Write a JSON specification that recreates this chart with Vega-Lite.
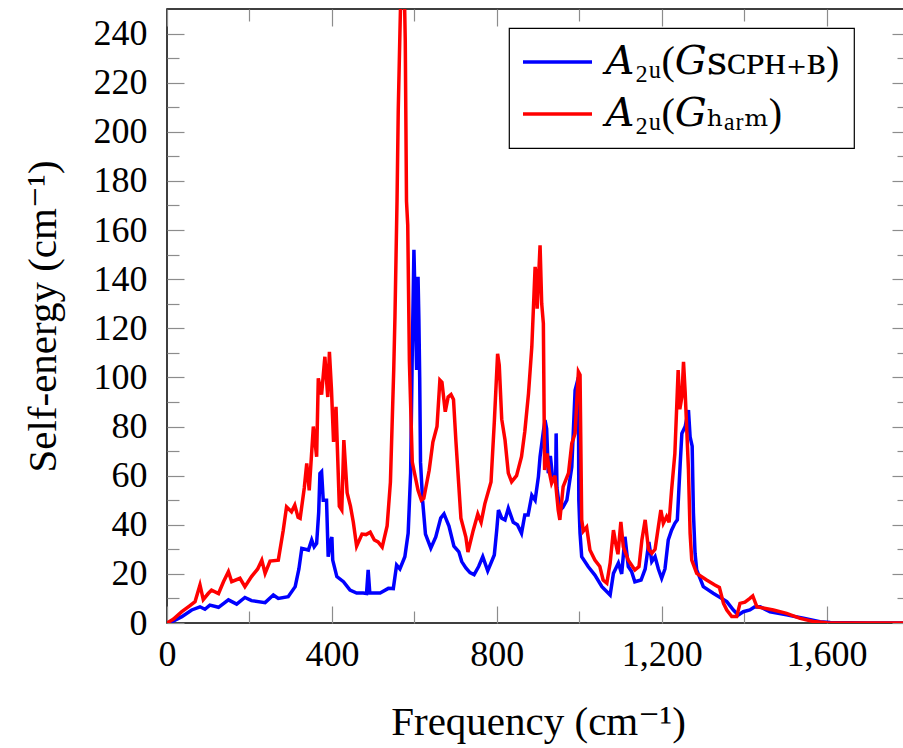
{
  "$schema": "https://vega.github.io/schema/vega-lite/v6.json",
  "width": 742,
  "height": 614,
  "autosize": {"type": "none"},
  "padding": {"left": 167, "top": 9, "right": 0, "bottom": 125},
  "background": "white",
  "config": {
    "view": {"stroke": "black", "strokeWidth": 1.5},
    "font": "Liberation Serif",
    "legend": {"strokeWidth": 1.2},
    "style": {"guide-title": {"font": "Liberation Serif, DejaVu Serif, serif", "fontSize": 36, "fontWeight": "normal"}},
    "axis": {"grid": false, "domain": false, "tickColor": "#8c8c8c", "tickWidth": 1.2, "labelFont": "Liberation Serif", "labelFontSize": 36, "labelColor": "black", "titleFont": "Liberation Serif, DejaVu Serif, serif", "titleFontSize": 36, "titleFontWeight": "normal", "titleColor": "black", "labelOverlap": false, "labelFlush": false, "labelBound": false}
  },
  "data": {"values": [
    {"f":0,"v":0,"s":"SCPH"},{"f":15,"v":0.8,"s":"SCPH"},{"f":36,"v":2.6,"s":"SCPH"},{"f":60,"v":5.3,"s":"SCPH"},{"f":80,"v":6.6,"s":"SCPH"},{"f":92,"v":5.6,"s":"SCPH"},{"f":104,"v":7.3,"s":"SCPH"},{"f":125,"v":6.4,"s":"SCPH"},{"f":149,"v":9.4,"s":"SCPH"},{"f":169,"v":7.7,"s":"SCPH"},{"f":189,"v":10.4,"s":"SCPH"},{"f":205,"v":9.1,"s":"SCPH"},{"f":238,"v":8.3,"s":"SCPH"},{"f":258,"v":11.4,"s":"SCPH"},{"f":270,"v":10,"s":"SCPH"},{"f":294,"v":10.7,"s":"SCPH"},{"f":311,"v":14.8,"s":"SCPH"},{"f":320,"v":22,"s":"SCPH"},{"f":327,"v":30.4,"s":"SCPH"},{"f":343,"v":29.7,"s":"SCPH"},{"f":351,"v":33.8,"s":"SCPH"},{"f":357,"v":31,"s":"SCPH"},{"f":363,"v":32.4,"s":"SCPH"},{"f":368,"v":45,"s":"SCPH"},{"f":371,"v":60.9,"s":"SCPH"},{"f":375,"v":61.6,"s":"SCPH"},{"f":379,"v":50,"s":"SCPH"},{"f":387,"v":50,"s":"SCPH"},{"f":391,"v":27,"s":"SCPH"},{"f":396,"v":33,"s":"SCPH"},{"f":400,"v":35,"s":"SCPH"},{"f":402,"v":25.6,"s":"SCPH"},{"f":412,"v":18.9,"s":"SCPH"},{"f":428,"v":16.8,"s":"SCPH"},{"f":444,"v":13.4,"s":"SCPH"},{"f":460,"v":12.2,"s":"SCPH"},{"f":476,"v":12.2,"s":"SCPH"},{"f":484,"v":12,"s":"SCPH"},{"f":488,"v":21.6,"s":"SCPH"},{"f":492,"v":12.2,"s":"SCPH"},{"f":517,"v":12.2,"s":"SCPH"},{"f":537,"v":14.1,"s":"SCPH"},{"f":549,"v":14,"s":"SCPH"},{"f":557,"v":23.6,"s":"SCPH"},{"f":565,"v":22,"s":"SCPH"},{"f":577,"v":27,"s":"SCPH"},{"f":585,"v":36.5,"s":"SCPH"},{"f":591,"v":61,"s":"SCPH"},{"f":595,"v":110,"s":"SCPH"},{"f":599,"v":152,"s":"SCPH"},{"f":602,"v":130,"s":"SCPH"},{"f":605.5,"v":103,"s":"SCPH"},{"f":609,"v":141,"s":"SCPH"},{"f":611,"v":124,"s":"SCPH"},{"f":613,"v":100,"s":"SCPH"},{"f":615,"v":65.5,"s":"SCPH"},{"f":620,"v":50,"s":"SCPH"},{"f":627,"v":36.2,"s":"SCPH"},{"f":640,"v":30.5,"s":"SCPH"},{"f":652,"v":35,"s":"SCPH"},{"f":664,"v":42.7,"s":"SCPH"},{"f":672,"v":44.4,"s":"SCPH"},{"f":684,"v":39.5,"s":"SCPH"},{"f":696,"v":31.3,"s":"SCPH"},{"f":708,"v":29,"s":"SCPH"},{"f":715,"v":25,"s":"SCPH"},{"f":725,"v":22.4,"s":"SCPH"},{"f":735,"v":20.5,"s":"SCPH"},{"f":745,"v":19.7,"s":"SCPH"},{"f":756,"v":23,"s":"SCPH"},{"f":766,"v":27,"s":"SCPH"},{"f":778,"v":21.2,"s":"SCPH"},{"f":794,"v":27.7,"s":"SCPH"},{"f":800,"v":38,"s":"SCPH"},{"f":804,"v":46,"s":"SCPH"},{"f":812,"v":42.7,"s":"SCPH"},{"f":820,"v":42,"s":"SCPH"},{"f":828,"v":46.7,"s":"SCPH"},{"f":840,"v":41,"s":"SCPH"},{"f":850,"v":40,"s":"SCPH"},{"f":860,"v":36.5,"s":"SCPH"},{"f":868,"v":44,"s":"SCPH"},{"f":876,"v":44,"s":"SCPH"},{"f":885,"v":52,"s":"SCPH"},{"f":893,"v":50,"s":"SCPH"},{"f":901,"v":59.6,"s":"SCPH"},{"f":905,"v":67.7,"s":"SCPH"},{"f":913,"v":78,"s":"SCPH"},{"f":917,"v":82.6,"s":"SCPH"},{"f":921,"v":79,"s":"SCPH"},{"f":925,"v":61,"s":"SCPH"},{"f":930,"v":68,"s":"SCPH"},{"f":935,"v":60,"s":"SCPH"},{"f":943,"v":60,"s":"SCPH"},{"f":944,"v":77.2,"s":"SCPH"},{"f":946,"v":55,"s":"SCPH"},{"f":953,"v":46,"s":"SCPH"},{"f":960,"v":47,"s":"SCPH"},{"f":970,"v":50,"s":"SCPH"},{"f":982,"v":63.6,"s":"SCPH"},{"f":990,"v":94.8,"s":"SCPH"},{"f":998,"v":100,"s":"SCPH"},{"f":999,"v":50,"s":"SCPH"},{"f":1002,"v":36.5,"s":"SCPH"},{"f":1006,"v":27,"s":"SCPH"},{"f":1022,"v":22.9,"s":"SCPH"},{"f":1038,"v":19.5,"s":"SCPH"},{"f":1055,"v":14.8,"s":"SCPH"},{"f":1075,"v":11.4,"s":"SCPH"},{"f":1083,"v":20.2,"s":"SCPH"},{"f":1095,"v":24.4,"s":"SCPH"},{"f":1103,"v":20,"s":"SCPH"},{"f":1111,"v":35.1,"s":"SCPH"},{"f":1119,"v":23,"s":"SCPH"},{"f":1127,"v":21,"s":"SCPH"},{"f":1135,"v":16.8,"s":"SCPH"},{"f":1150,"v":17.5,"s":"SCPH"},{"f":1160,"v":22,"s":"SCPH"},{"f":1169,"v":33,"s":"SCPH"},{"f":1176,"v":25,"s":"SCPH"},{"f":1184,"v":27,"s":"SCPH"},{"f":1192,"v":22,"s":"SCPH"},{"f":1200,"v":18.2,"s":"SCPH"},{"f":1208,"v":22,"s":"SCPH"},{"f":1216,"v":33.8,"s":"SCPH"},{"f":1224,"v":37.8,"s":"SCPH"},{"f":1232,"v":40.6,"s":"SCPH"},{"f":1238,"v":42,"s":"SCPH"},{"f":1245,"v":65,"s":"SCPH"},{"f":1249,"v":77.2,"s":"SCPH"},{"f":1257,"v":80,"s":"SCPH"},{"f":1265,"v":86.7,"s":"SCPH"},{"f":1269,"v":75.8,"s":"SCPH"},{"f":1274,"v":72,"s":"SCPH"},{"f":1277,"v":45,"s":"SCPH"},{"f":1281,"v":28.4,"s":"SCPH"},{"f":1285,"v":21.6,"s":"SCPH"},{"f":1301,"v":14.8,"s":"SCPH"},{"f":1325,"v":12.1,"s":"SCPH"},{"f":1358,"v":8.7,"s":"SCPH"},{"f":1374,"v":5.3,"s":"SCPH"},{"f":1386,"v":3.3,"s":"SCPH"},{"f":1398,"v":4.6,"s":"SCPH"},{"f":1414,"v":5.3,"s":"SCPH"},{"f":1425,"v":6.5,"s":"SCPH"},{"f":1439,"v":6.6,"s":"SCPH"},{"f":1463,"v":4.6,"s":"SCPH"},{"f":1503,"v":3.3,"s":"SCPH"},{"f":1544,"v":1.9,"s":"SCPH"},{"f":1584,"v":0.5,"s":"SCPH"},{"f":1609,"v":0.2,"s":"SCPH"},{"f":1700,"v":0,"s":"SCPH"},{"f":1800,"v":0,"s":"SCPH"},
    {"f":0,"v":0,"s":"harm"},{"f":15,"v":1.5,"s":"harm"},{"f":36,"v":4.6,"s":"harm"},{"f":55,"v":7,"s":"harm"},{"f":68,"v":8.7,"s":"harm"},{"f":80,"v":15.5,"s":"harm"},{"f":88,"v":9.5,"s":"harm"},{"f":100,"v":12,"s":"harm"},{"f":108,"v":13.4,"s":"harm"},{"f":125,"v":12,"s":"harm"},{"f":137,"v":16.8,"s":"harm"},{"f":149,"v":20.9,"s":"harm"},{"f":157,"v":16.8,"s":"harm"},{"f":177,"v":18.2,"s":"harm"},{"f":189,"v":14.8,"s":"harm"},{"f":205,"v":18.9,"s":"harm"},{"f":220,"v":22,"s":"harm"},{"f":230,"v":25.6,"s":"harm"},{"f":238,"v":20.2,"s":"harm"},{"f":250,"v":25.2,"s":"harm"},{"f":270,"v":25.6,"s":"harm"},{"f":282,"v":37.8,"s":"harm"},{"f":290,"v":47.3,"s":"harm"},{"f":302,"v":45.3,"s":"harm"},{"f":310,"v":48,"s":"harm"},{"f":318,"v":43,"s":"harm"},{"f":323,"v":42.6,"s":"harm"},{"f":333,"v":55,"s":"harm"},{"f":339,"v":65,"s":"harm"},{"f":345,"v":54,"s":"harm"},{"f":355,"v":80,"s":"harm"},{"f":363,"v":67.7,"s":"harm"},{"f":367,"v":99.6,"s":"harm"},{"f":375,"v":93,"s":"harm"},{"f":383,"v":108.4,"s":"harm"},{"f":390,"v":92,"s":"harm"},{"f":394,"v":110.4,"s":"harm"},{"f":399,"v":95,"s":"harm"},{"f":404,"v":73.7,"s":"harm"},{"f":410,"v":88,"s":"harm"},{"f":418,"v":47.6,"s":"harm"},{"f":424,"v":46,"s":"harm"},{"f":429,"v":74.5,"s":"harm"},{"f":437,"v":53,"s":"harm"},{"f":445,"v":47.6,"s":"harm"},{"f":452,"v":41,"s":"harm"},{"f":460,"v":31.3,"s":"harm"},{"f":473,"v":36.2,"s":"harm"},{"f":483,"v":36,"s":"harm"},{"f":493,"v":37,"s":"harm"},{"f":503,"v":33.8,"s":"harm"},{"f":512,"v":33,"s":"harm"},{"f":522,"v":30.9,"s":"harm"},{"f":534,"v":39.5,"s":"harm"},{"f":542,"v":57.4,"s":"harm"},{"f":550,"v":103,"s":"harm"},{"f":553,"v":124.7,"s":"harm"},{"f":558,"v":171.7,"s":"harm"},{"f":561,"v":208.8,"s":"harm"},{"f":565,"v":240,"s":"harm"},{"f":568,"v":262,"s":"harm"},{"f":572,"v":265,"s":"harm"},{"f":576,"v":255,"s":"harm"},{"f":578,"v":237,"s":"harm"},{"f":581,"v":171.7,"s":"harm"},{"f":584,"v":162,"s":"harm"},{"f":588,"v":106.6,"s":"harm"},{"f":595,"v":65.5,"s":"harm"},{"f":609,"v":54,"s":"harm"},{"f":617,"v":50,"s":"harm"},{"f":623,"v":50.8,"s":"harm"},{"f":636,"v":62.2,"s":"harm"},{"f":645,"v":73.7,"s":"harm"},{"f":655,"v":80,"s":"harm"},{"f":662,"v":98.9,"s":"harm"},{"f":667,"v":98,"s":"harm"},{"f":675,"v":86,"s":"harm"},{"f":682,"v":92,"s":"harm"},{"f":689,"v":93,"s":"harm"},{"f":695,"v":91,"s":"harm"},{"f":701,"v":73.7,"s":"harm"},{"f":713,"v":42.7,"s":"harm"},{"f":725,"v":35,"s":"harm"},{"f":730,"v":28.9,"s":"harm"},{"f":743,"v":37.8,"s":"harm"},{"f":754,"v":44.4,"s":"harm"},{"f":762,"v":41,"s":"harm"},{"f":771,"v":48.5,"s":"harm"},{"f":786,"v":57.4,"s":"harm"},{"f":794,"v":81.8,"s":"harm"},{"f":802,"v":109.6,"s":"harm"},{"f":806,"v":105,"s":"harm"},{"f":812,"v":83,"s":"harm"},{"f":820,"v":74.5,"s":"harm"},{"f":828,"v":61,"s":"harm"},{"f":836,"v":57.5,"s":"harm"},{"f":848,"v":60,"s":"harm"},{"f":860,"v":67.7,"s":"harm"},{"f":868,"v":78,"s":"harm"},{"f":877,"v":93.5,"s":"harm"},{"f":885,"v":112.5,"s":"harm"},{"f":893,"v":145,"s":"harm"},{"f":896,"v":141,"s":"harm"},{"f":898,"v":128,"s":"harm"},{"f":905,"v":153.8,"s":"harm"},{"f":909,"v":130,"s":"harm"},{"f":913,"v":122,"s":"harm"},{"f":916,"v":62.3,"s":"harm"},{"f":922,"v":69,"s":"harm"},{"f":928,"v":61,"s":"harm"},{"f":933,"v":56.9,"s":"harm"},{"f":941,"v":60,"s":"harm"},{"f":949,"v":46,"s":"harm"},{"f":953,"v":42,"s":"harm"},{"f":961,"v":55.5,"s":"harm"},{"f":974,"v":61,"s":"harm"},{"f":982,"v":73.1,"s":"harm"},{"f":990,"v":77.2,"s":"harm"},{"f":998,"v":102.3,"s":"harm"},{"f":1002,"v":101,"s":"harm"},{"f":1006,"v":42,"s":"harm"},{"f":1010,"v":37.4,"s":"harm"},{"f":1018,"v":39,"s":"harm"},{"f":1026,"v":29.7,"s":"harm"},{"f":1038,"v":25.6,"s":"harm"},{"f":1050,"v":23,"s":"harm"},{"f":1058,"v":17.5,"s":"harm"},{"f":1067,"v":16.2,"s":"harm"},{"f":1075,"v":24.4,"s":"harm"},{"f":1083,"v":37.8,"s":"harm"},{"f":1089,"v":32,"s":"harm"},{"f":1094,"v":28,"s":"harm"},{"f":1101,"v":41.2,"s":"harm"},{"f":1107,"v":31,"s":"harm"},{"f":1119,"v":25.6,"s":"harm"},{"f":1135,"v":21.6,"s":"harm"},{"f":1145,"v":23,"s":"harm"},{"f":1152,"v":33.8,"s":"harm"},{"f":1160,"v":42,"s":"harm"},{"f":1168,"v":30,"s":"harm"},{"f":1176,"v":28.4,"s":"harm"},{"f":1184,"v":30,"s":"harm"},{"f":1192,"v":39.2,"s":"harm"},{"f":1198,"v":46,"s":"harm"},{"f":1204,"v":40.6,"s":"harm"},{"f":1212,"v":43.3,"s":"harm"},{"f":1218,"v":41,"s":"harm"},{"f":1224,"v":54,"s":"harm"},{"f":1232,"v":69,"s":"harm"},{"f":1240,"v":103,"s":"harm"},{"f":1244,"v":87,"s":"harm"},{"f":1249,"v":92,"s":"harm"},{"f":1253,"v":106.3,"s":"harm"},{"f":1257,"v":94,"s":"harm"},{"f":1265,"v":62.3,"s":"harm"},{"f":1269,"v":36.5,"s":"harm"},{"f":1273,"v":25.6,"s":"harm"},{"f":1285,"v":20.2,"s":"harm"},{"f":1309,"v":17.5,"s":"harm"},{"f":1329,"v":15.5,"s":"harm"},{"f":1340,"v":14.5,"s":"harm"},{"f":1350,"v":8,"s":"harm"},{"f":1358,"v":5.3,"s":"harm"},{"f":1370,"v":2.6,"s":"harm"},{"f":1382,"v":2.6,"s":"harm"},{"f":1390,"v":8,"s":"harm"},{"f":1402,"v":8.5,"s":"harm"},{"f":1414,"v":10,"s":"harm"},{"f":1421,"v":11,"s":"harm"},{"f":1431,"v":6.6,"s":"harm"},{"f":1471,"v":5.3,"s":"harm"},{"f":1503,"v":3.9,"s":"harm"},{"f":1536,"v":1.9,"s":"harm"},{"f":1568,"v":0.6,"s":"harm"},{"f":1601,"v":0.1,"s":"harm"},{"f":1700,"v":0,"s":"harm"},{"f":1800,"v":0,"s":"harm"}
  ]},
  "layer": [
    {
      "mark": {"type": "line", "strokeWidth": 3.5, "clip": true},
      "encoding": {
        "x": {"field": "f", "type": "quantitative", "scale": {"domain": [0, 1800], "nice": false, "zero": false},
          "axis": {"orient": "bottom", "values": [0,200,400,600,800,1000,1200,1400,1600,1800],
            "labelExpr": "datum.value % 400 === 0 ? format(datum.value, ',') : ''",
            "tickSize": {"condition": {"test": "datum.value % 400 === 0", "value": -17}, "value": -12},
            "labelPadding": 31, "labelBaseline": "top",
            "title": "Frequency (cm⁻¹)", "titleFont": "Liberation Serif, DejaVu Serif, serif", "titleFontSize": 41, "titlePadding": 25}},
        "y": {"field": "v", "type": "quantitative", "scale": {"domain": [0, 250], "nice": false, "zero": false},
          "axis": {"orient": "left", "values": [0,10,20,30,40,50,60,70,80,90,100,110,120,130,140,150,160,170,180,190,200,210,220,230,240],
            "labelExpr": "datum.value % 20 === 0 ? datum.label : ''",
            "tickSize": {"condition": {"test": "datum.value % 20 === 0", "value": -17}, "value": -12},
            "labelPadding": 37,
            "title": "Self-energy (cm⁻¹)", "titleFont": "Liberation Serif, DejaVu Serif, serif", "titleFontSize": 41, "titlePadding": 29}},
        "color": {"field": "s", "type": "nominal", "scale": {"domain": ["SCPH", "harm"], "range": ["#0000ff", "#ff0000"]},
          "legend": {"orient": "none", "legendX": 342, "legendY": 19, "title": null,
            "labelExpr": "datum.value === 'SCPH' ? '𝐴₂ᵤ(𝐺ꜱᴄᴘʜ₊ʙ)\u2003\u2003' : '𝐴₂ᵤ(𝐺ₕₐᵣₘ)'",
            "labelFont": "Liberation Serif, DejaVu Serif", "labelFontSize": 40, "labelColor": "black", "labelLimit": 0,
            "symbolType": "M-6.9,0H6.9", "symbolSize": 100, "symbolStrokeWidth": 3.5, "symbolOffset": 14.5,
            "labelOffset": 28, "rowPadding": 12, "padding": 14,
            "strokeColor": "black", "fillColor": "white"}}
      }
    },
    {
      "mark": {"type": "line", "opacity": 0},
      "encoding": {
        "detail": {"field": "s"},
        "x": {"field": "f", "type": "quantitative",
          "axis": {"orient": "top", "values": [0,200,400,600,800,1000,1200,1400,1600,1800], "labels": false, "title": null,
            "tickSize": {"condition": {"test": "datum.value % 400 === 0", "value": -17}, "value": -12}}},
        "y": {"field": "v", "type": "quantitative",
          "axis": {"orient": "right", "values": [0,10,20,30,40,50,60,70,80,90,100,110,120,130,140,150,160,170,180,190,200,210,220,230,240], "labels": false, "title": null,
            "tickSize": {"condition": {"test": "datum.value % 20 === 0", "value": -17}, "value": -12}}}
      }
    }
  ],
  "resolve": {"axis": {"x": "independent", "y": "independent"}}
}
